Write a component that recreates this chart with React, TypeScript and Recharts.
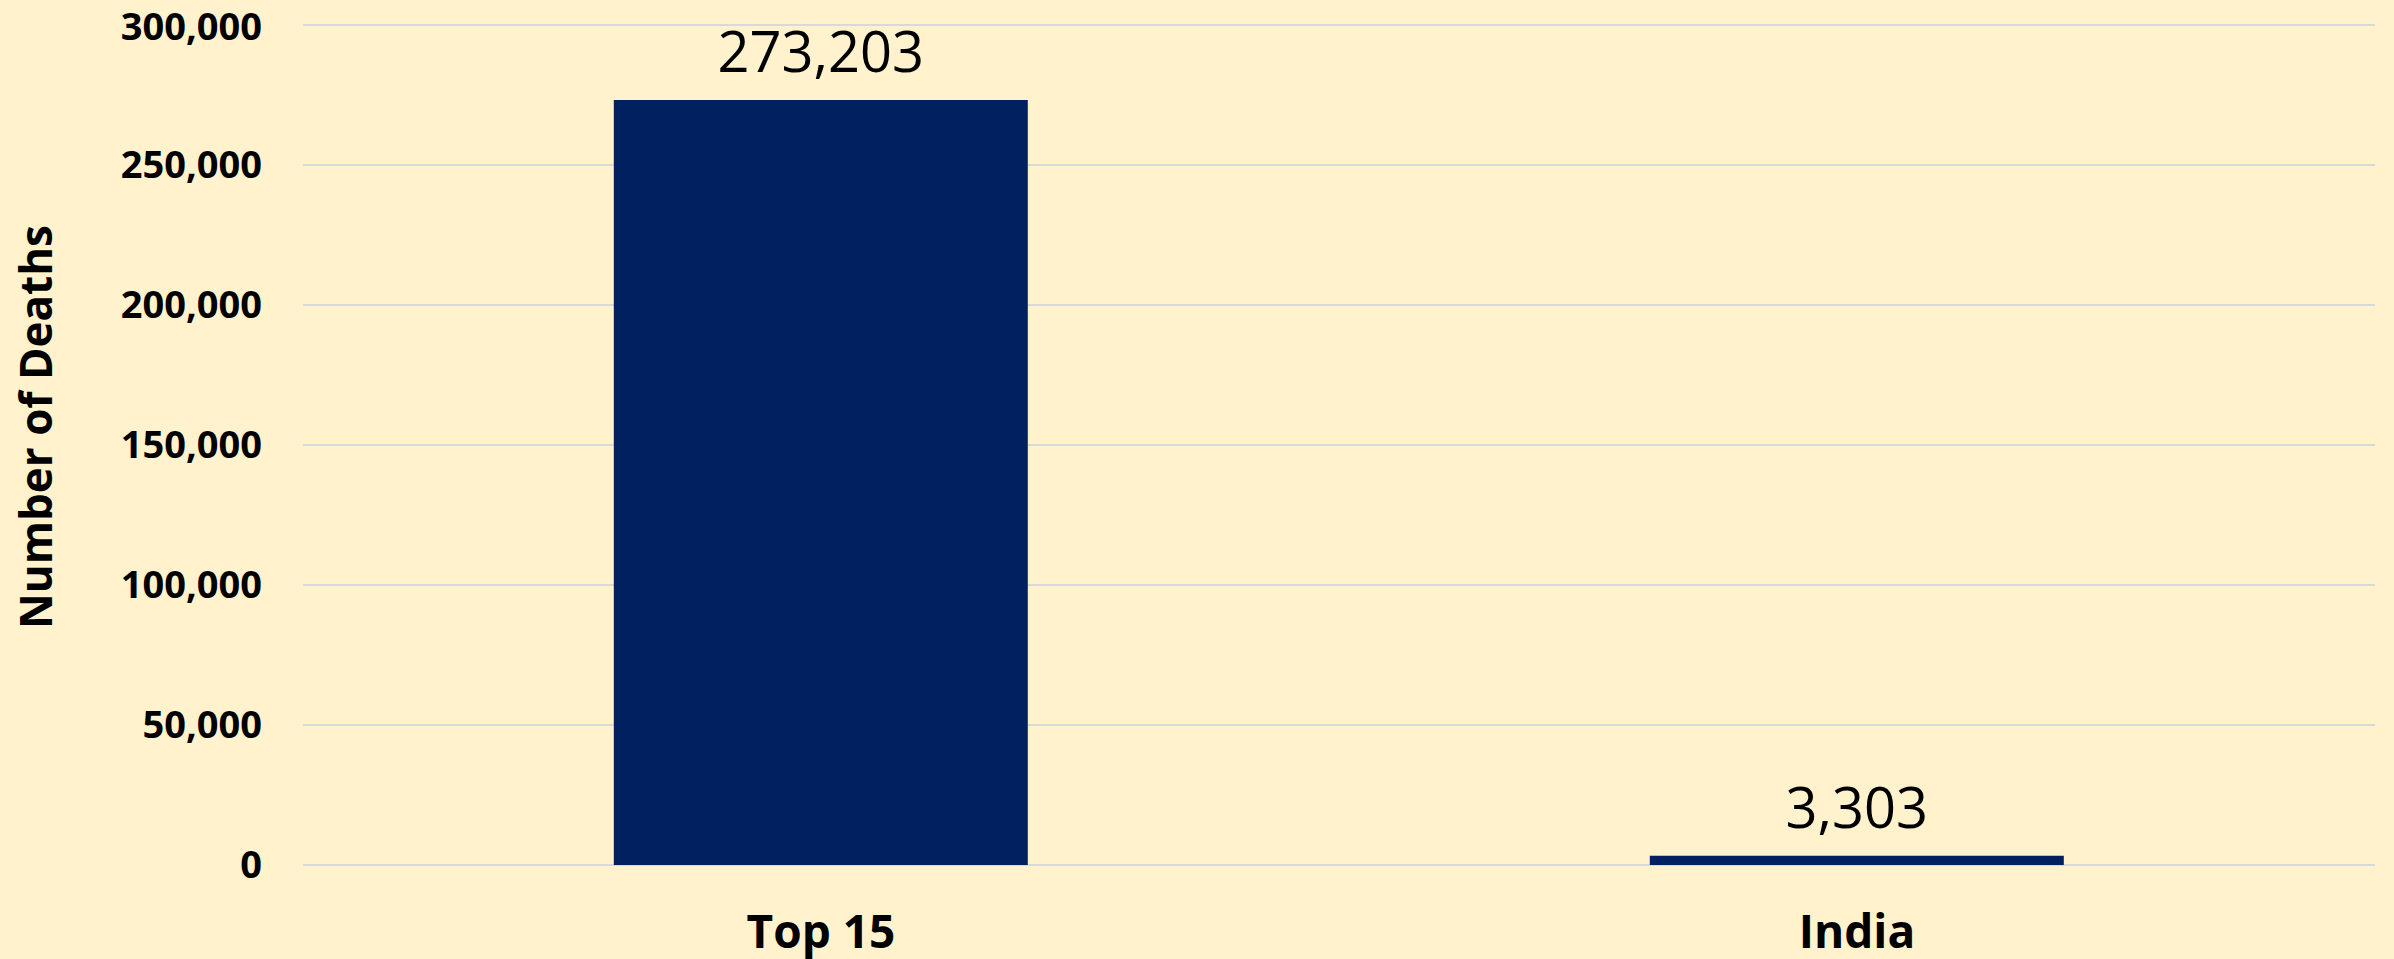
import React from 'react';
import { BarChart, Bar, XAxis, YAxis, CartesianGrid, LabelList } from 'recharts';

const categories = ['Top 15', 'India'];
const deaths = [273203, 3303];
const yTicks = [0, 50000, 100000, 150000, 200000, 250000, 300000];
const yAxisTitle = 'Number of Deaths';

const data = categories.map((c, i) => ({ name: c, value: deaths[i] }));

const FONT = '"Open Sans", "Noto Sans", sans-serif';
const fmt = (v: number) => v.toLocaleString('en-US');

export default function App() {
  return (
    <div style={{ position: 'absolute', left: 0, top: 0, width: 2394, height: 959, background: '#FFF2CC' }}>
      <BarChart
        width={2394}
        height={959}
        data={data}
        margin={{ top: 25, right: 19, bottom: 0, left: 0 }}
        barCategoryGap="30%"
      >
        <CartesianGrid vertical={false} stroke="#D9D9D9" strokeWidth={2} />
        <XAxis
          dataKey="name"
          height={94}
          axisLine={false}
          tickLine={false}
          tickSize={0}
          tickMargin={50}
          tick={{ fill: '#000', fontSize: 46, fontWeight: 700, fontFamily: FONT }}
        />
        <YAxis
          width={303}
          domain={[0, 300000]}
          ticks={yTicks}
          axisLine={false}
          tickLine={false}
          tickSize={0}
          tickMargin={41}
          tickFormatter={fmt}
          tick={{ fill: '#000', fontSize: 38, fontWeight: 700, fontFamily: FONT }}
          label={{
            content: () => (
              <text
                transform="translate(52,427) rotate(-90)"
                textAnchor="middle"
                fill="#000"
                fontSize={44}
                fontWeight={700}
                fontFamily={FONT}
              >
                {yAxisTitle}
              </text>
            ),
          }}
        />
        <Bar dataKey="value" fill="#002060" isAnimationActive={false}>
          <LabelList
            dataKey="value"
            position="top"
            offset={28}
            formatter={(v: any) => fmt(Number(v))}
            style={{ fill: '#000', fontSize: 56, fontFamily: FONT, fontWeight: 400 }}
          />
        </Bar>
      </BarChart>
    </div>
  );
}
